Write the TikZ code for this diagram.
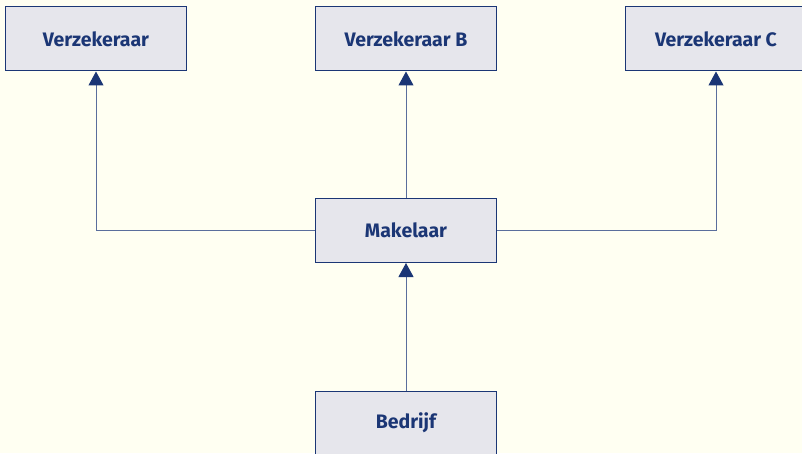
\documentclass[tikz,border=0pt]{standalone}
\usepackage{fontspec}
\setmainfont{Fira Sans}
\usetikzlibrary{arrows.meta}
\definecolor{bgyellow}{HTML}{FFFFF2}
\definecolor{boxgray}{HTML}{E6E6EC}
\definecolor{navy}{HTML}{1B3675}
\definecolor{linkblue}{HTML}{5A6E9C}
\tikzset{
  party/.style={draw=navy,fill=boxgray,line width=1pt,minimum width=181pt,minimum height=64pt,
    text=navy,font=\fontsize{19.5}{22}\selectfont\bfseries,inner sep=0pt},
  link/.style={draw=linkblue,line width=1pt,-{Triangle[width=15pt,length=14pt,color=navy]}}
}
\begin{document}
\begin{tikzpicture}[x=1pt,y=1pt]
\fill[bgyellow] (0,0) rectangle (802,453);
\useasboundingbox (0,0) rectangle (802,453);

\node[party] (vzA) at (96,414) {Verzekeraar};
\node[party] (vzB) at (406,414) {Verzekeraar B};
\node[party] (vzC) at (716,414) {Verzekeraar C};
\node[party] (mak) at (406,222.5) {Makelaar};
\node[party] (bed) at (406,30) {Bedrijf};

\draw[link] (mak.west) -| (vzA.south);
\draw[link] (mak.north) -- (vzB.south);
\draw[link] (mak.east) -| (vzC.south);
\draw[link] (bed.north) -- (mak.south);
\end{tikzpicture}
\end{document}
